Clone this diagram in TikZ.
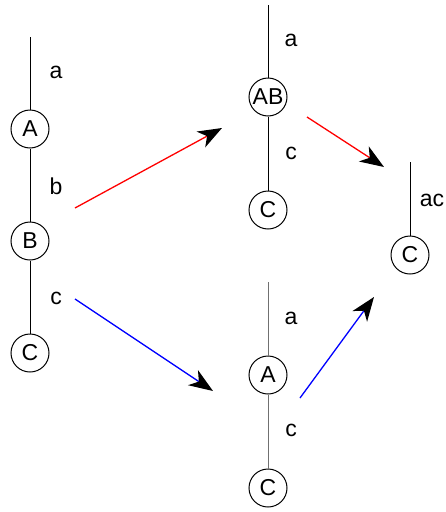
\documentclass[tikz,border=0pt]{standalone}
\usepackage{fontspec}
\setmainfont{Liberation Sans}
\usetikzlibrary{arrows.meta}
\definecolor{trgray}{RGB}{112,112,112}
\definecolor{trred}{RGB}{255,0,0}
\definecolor{trblue}{RGB}{0,0,255}
\tikzset{
  state/.style={draw, circle, minimum size=38pt, inner sep=0pt, line width=1pt},
  branch/.style={line width=1pt},
  edgelbl/.style={anchor=center, inner sep=0pt},
  move/.style={line width=1.3pt, -{Stealth[black, length=24pt, width=18pt, inset=7pt]}}
}
\begin{document}
\begin{tikzpicture}[x=1pt, y=-1pt, font=\fontsize{23}{26}\selectfont]
    \useasboundingbox (0,0) rectangle (446,512);

    % left tree
    \coordinate (ltop) at (30,37);
    \node[state] (lA) at (30,129) {A};
    \node[state] (lB) at (30,241) {B};
    \node[state] (lC) at (30,353) {C};
    \draw[branch] (ltop) -- (lA) -- (lB) -- (lC);
    \node[edgelbl] (la) at (56,72) {a};
    \node[edgelbl] (lb) at (56,186) {b};
    \node[edgelbl] (lc) at (56,298) {c};

    % top tree
    \coordinate (ttop) at (268,5);
    \node[state] (tAB) at (268,97) {\makebox[0pt]{AB}};
    \node[state] (tC) at (268,210) {C};
    \draw[branch] (ttop) -- (tAB) -- (tC);
    \node[edgelbl] (ta) at (291,40) {a};
    \node[edgelbl] (tc) at (291,153) {c};

    % bottom tree
    \coordinate (btop) at (268,282);
    \node[state] (bA) at (268,375) {A};
    \node[state] (bC) at (268,488) {C};
    \draw[branch, trgray] (btop) -- (bA) -- (bC);
    \node[edgelbl] (ba) at (291,318) {a};
    \node[edgelbl] (bc) at (291,430) {c};

    % right tree
    \coordinate (rtop) at (410,162);
    \node[state] (rC) at (410,255) {C};
    \draw[branch] (rtop) -- (rC);
    \node[edgelbl] (rac) at (432,200) {ac};

    % moves
    \coordinate (m1s) at (75,208);  \coordinate (m1e) at (222,128);
    \coordinate (m2s) at (307,117); \coordinate (m2e) at (384,167);
    \coordinate (m3s) at (75,299);  \coordinate (m3e) at (213,391);
    \coordinate (m4s) at (300,398); \coordinate (m4e) at (374,297);
    \draw[move, trred] (m1s) -- (m1e);
    \draw[move, trred] (m2s) -- (m2e);
    \draw[move, trblue] (m3s) -- (m3e);
    \draw[move, trblue] (m4s) -- (m4e);
\end{tikzpicture}
\end{document}
